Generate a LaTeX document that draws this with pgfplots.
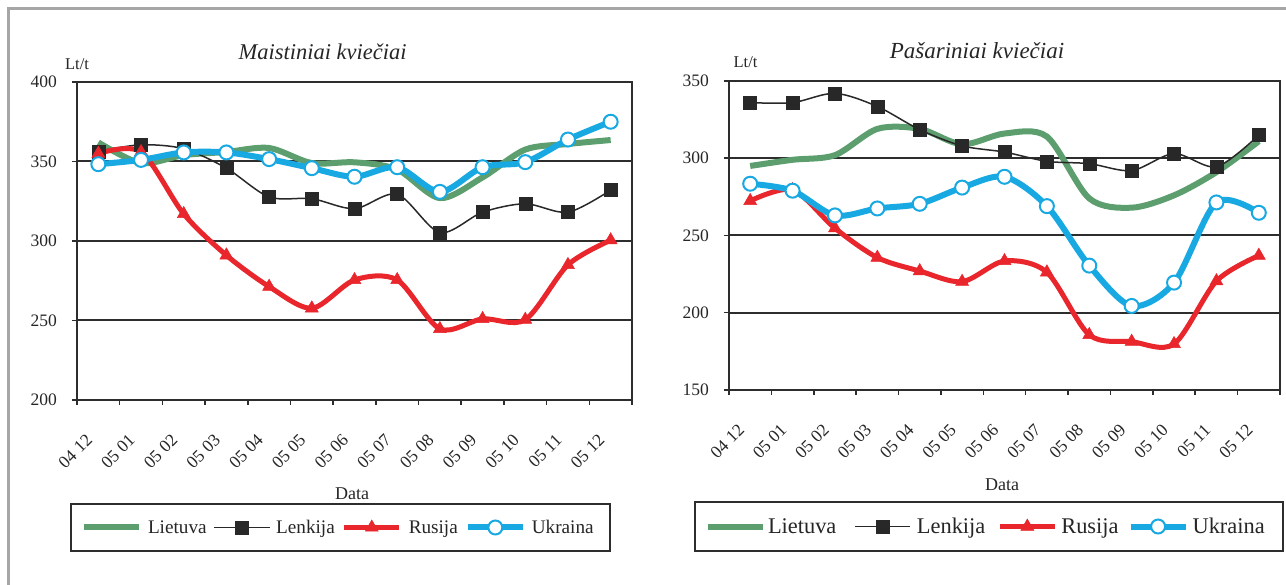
\documentclass[border=0pt]{standalone}
\usepackage{pgfplots}
\pgfplotsset{compat=1.18}
\usepackage{fontspec}
\setmainfont{Liberation Serif}
\definecolor{cgreen}{RGB}{92,158,110}
\definecolor{cblue}{RGB}{24,168,226}
\definecolor{cred}{RGB}{232,38,44}
\definecolor{cblack}{RGB}{40,40,40}
\definecolor{cframe}{RGB}{166,166,166}
\definecolor{caxis}{RGB}{45,45,45}

\pgfplotsset{
  mychart/.style={
    scale only axis,
    anchor=south west,
    xmin=-0.5, xmax=12.5,
    xtick={-0.5,0.5,1.5,2.5,3.5,4.5,5.5,6.5,7.5,8.5,9.5,10.5,11.5,12.5},
    xticklabels={04 12,05 01,05 02,05 03,05 04,05 05,05 06,05 07,05 08,05 09,05 10,05 11,05 12,{}},
    tick align=outside,
    tick pos=left,
    major tick length=5pt,
    every tick/.style={line width=1.5pt, caxis},
    axis line style={line width=2pt, caxis},
    ymajorgrids,
    grid style={line width=2pt, caxis},
    tick label style={font=\fontsize{17.5}{20}\selectfont, text=black!85},
    /pgf/number format/assume math mode=true,
    yticklabel style={inner sep=0pt, xshift=-15pt},
    xticklabel style={inner sep=0pt, anchor=north east, xshift=8pt, yshift=-28pt, rotate=45},
    legend columns=4,
    legend style={draw=caxis, line width=2pt, fill=white,
      anchor=north west, inner xsep=10pt, inner ysep=16pt,
      nodes={inner sep=0pt, text=black!85}, /tikz/column sep=0pt},
    legend image code/.code={\draw[mark repeat=2,mark phase=2,#1] plot coordinates {(0pt,0pt) (27.5pt,0pt) (55pt,0pt)};},
  },
  lt/.style={cgreen, line width=6pt, smooth, tension=0.5, no marks},
  lk/.style={cblack, line width=1.5pt, smooth, tension=0.5, mark=square*, mark size=6.5pt, mark options={fill=cblack, draw=cblack, line width=0.5pt}},
  ru/.style={cred, line width=5pt, smooth, tension=0.5, mark=triangle*, mark size=7.5pt, mark options={fill=cred, draw=cred, line width=0.5pt}},
  ua/.style={cblue, line width=6pt, smooth, tension=0.5, mark=*, mark size=7pt, mark options={fill=white, draw=cblue, line width=2pt}},
}

\begin{document}
\begin{tikzpicture}[x=1pt, y=1pt]
\useasboundingbox (0,0) rectangle (1286,585);
\draw[cframe, line width=3.5pt] (8.5,0) -- (8.5,576.5) -- (1286,576.5);

% ---------- Left chart ----------
\begin{axis}[mychart,
  at={(77pt,185pt)}, width=555pt, height=318pt,
  ymin=200, ymax=400, ytick={200,250,300,350,400},
  legend style={at={(axis description cs:-0.0126,-0.3239)}, font=\fontsize{19.2}{22}\selectfont},
]
\addplot[lt] coordinates {(0,362) (1,349) (2,354) (3,356) (4,358.5) (5,349) (6,349.5) (7,345) (8,327) (9,340) (10,357.5) (11,361) (12,363.5)};
\addlegendentry{\hspace*{6pt}Lietuva\hspace*{7pt}\mbox{}}
\addplot[lk] coordinates {(0,356.4) (1,360.5) (2,358) (3,345.8) (4,327.7) (5,326.6) (6,320.3) (7,329.4) (8,305.3) (9,318.1) (10,323.4) (11,318.1) (12,332)};
\addlegendentry{\hspace*{6pt}Lenkija\hspace*{7pt}\mbox{}}
\addplot[ru] coordinates {(0,355) (1,356) (2,317) (3,291) (4,271.3) (5,257.7) (6,275.5) (7,275.5) (8,244.7) (9,251) (10,250.5) (11,285) (12,300.5)};
\addlegendentry{\hspace*{7pt}Rusija\hspace*{7pt}\mbox{}}
\addplot[ua] coordinates {(0,348.3) (1,351) (2,355.7) (3,355.7) (4,351.5) (5,345.8) (6,340.4) (7,346.4) (8,330.9) (9,346.4) (10,349.6) (11,363.8) (12,375)};
\addlegendentry{\hspace*{6pt}Ukraina\hspace*{6pt}\mbox{}}
\end{axis}

% ---------- Right chart ----------
\begin{axis}[mychart,
  at={(729pt,195pt)}, width=551pt, height=309pt,
  ymin=150, ymax=350, ytick={150,200,250,300,350},
  legend style={at={(axis description cs:-0.0635,-0.3592)}, font=\fontsize{22.4}{26}\selectfont},
]
\addplot[lt] coordinates {(0,295) (1,299) (2,302) (3,319) (4,319) (5,309) (6,316) (7,314) (8,274) (9,268) (10,276) (11,291) (12,311)};
\addlegendentry{\hspace*{2pt}Lietuva\hspace*{18pt}\mbox{}}
\addplot[lk] coordinates {(0,336) (1,336) (2,342) (3,333.5) (4,318.5) (5,308) (6,304) (7,298) (8,296.5) (9,292) (10,303) (11,294.5) (12,315)};
\addlegendentry{\hspace*{6pt}Lenkija\hspace*{12pt}\mbox{}}
\addplot[ru] coordinates {(0,272.4) (1,279.5) (2,254.7) (3,235.7) (4,227) (5,220.1) (6,233.5) (7,226.2) (8,185.7) (9,181.3) (10,179.8) (11,220.5) (12,237)};
\addlegendentry{\hspace*{4pt}Rusija\hspace*{9pt}\mbox{}}
\addplot[ua] coordinates {(0,283.5) (1,279) (2,263) (3,267.5) (4,270.5) (5,281) (6,288) (7,269) (8,230.5) (9,204.4) (10,219.5) (11,271.4) (12,264.7)};
\addlegendentry{\hspace*{4pt}Ukraina\hspace*{8pt}\mbox{}}
\end{axis}

% ---------- Texts ----------
\node[anchor=base, font=\fontsize{22.5}{26}\selectfont\itshape, text=black!85] at (322.6,525.5) {Maistiniai kviečiai};
\node[anchor=base, font=\fontsize{23}{26}\selectfont\itshape, text=black!85] at (977,526) {Pašariniai kviečiai};
\node[anchor=base, font=\fontsize{16.5}{19}\selectfont, text=black!85] at (77,515) {Lt/t};
\node[anchor=base, font=\fontsize{16.5}{19}\selectfont, text=black!85] at (745.5,517) {Lt/t};
\node[anchor=base, font=\fontsize{18}{21}\selectfont, text=black!85] at (352,85) {Data};
\node[anchor=base, font=\fontsize{18}{21}\selectfont, text=black!85] at (1002,94) {Data};
\end{tikzpicture}
\end{document}
